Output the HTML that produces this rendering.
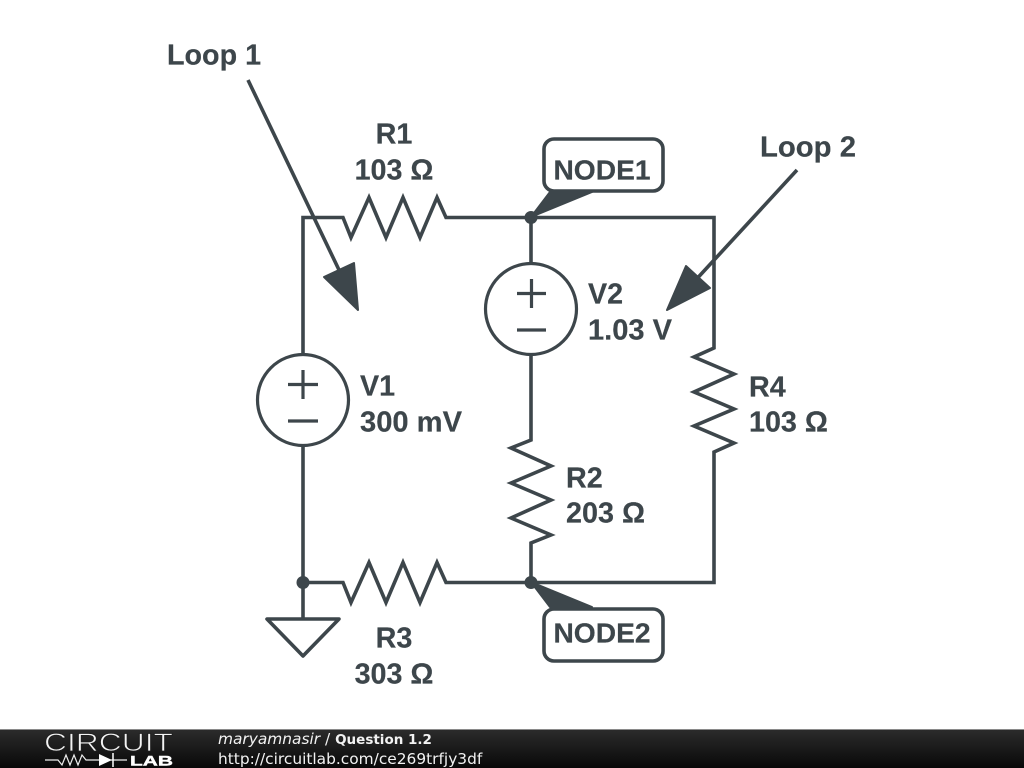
<!DOCTYPE html>
<html><head><meta charset="utf-8"><style>
html,body{margin:0;padding:0;background:#fff;width:1024px;height:768px;overflow:hidden}
svg{display:block}
.t{font-family:"Liberation Sans",sans-serif;font-weight:bold;font-size:28.7px;fill:#3d464b;stroke:#3d464b;stroke-width:.2}
.n{font-size:28.2px}
.f{font-family:"DejaVu Sans",sans-serif;font-size:15.4px;fill:#f2f2f2}
</style></head><body>
<svg width="1024" height="768" viewBox="0 0 1024 768" xmlns="http://www.w3.org/2000/svg">
<defs><linearGradient id="g" x1="0" y1="0" x2="0" y2="1"><stop offset="0" stop-color="#2c2c2c"/><stop offset="1" stop-color="#080808"/></linearGradient></defs>
<rect width="1024" height="768" fill="#fff"/>
<g fill="none" stroke="#3d464b" stroke-width="3.6" stroke-linejoin="miter" stroke-miterlimit="10" stroke-linecap="butt">
<path d="M303 355V217.5H343L351 237.5L369 197.5L386 237.5L403 197.5L420 237.5L437 197.5L446 217.5H714V348L694 357L734 374L694 392L734 409L694 426L734 443L714 452V582.5H446L437 562.5L420 602.5L403 562.5L386 602.5L369 562.5L351 602.5L343 582.5H303"/>
<path d="M303 446V619"/>
<path d="M531 217V263"/>
<path d="M531 355V440L511 448L551 466L511 483L551 500L511 518L551 535L531 543V582"/>
<path d="M248 80L340 272"/>
<path d="M797 170L692 284"/>
<path d="M267 619H339L303 656Z" stroke-linejoin="round"/>
<rect x="544" y="139" width="119" height="52" rx="10" fill="#fff"/>
<rect x="544" y="609" width="119" height="52" rx="10" fill="#fff"/>
</g>
<g fill="none" stroke="#3d464b" stroke-width="3.2">
<circle cx="303" cy="400" r="45.5"/>
<circle cx="531" cy="309" r="45.5"/>
<path d="M288 384.5H318M303 370V399M288 421H318"/>
<path d="M517 293.5H546M531.5 279V308M517 330H546"/>
</g>
<g fill="#3d464b" stroke="#3d464b" stroke-width="2" stroke-linejoin="round">
<path d="M324 277L354 263L358 310Z"/>
<path d="M686 266L710 288L667 310Z"/>
<path d="M531 217L550 192H592Z"/>
<path d="M531 582L592 607H550Z"/>
</g>
<g fill="#3d464b"><circle cx="531" cy="217.5" r="6.5"/><circle cx="531" cy="582.5" r="6.5"/><circle cx="303" cy="582.5" r="6.5"/></g>
<text class="t" x="167" y="64.5">Loop 1</text>
<text class="t" x="760" y="156.5" textLength="96" lengthAdjust="spacingAndGlyphs">Loop 2</text>
<text class="t" x="394" y="143.5" text-anchor="middle">R1</text>
<text class="t" x="394" y="179.5" text-anchor="middle">103 Ω</text>
<text class="t" x="588" y="303.5">V2</text>
<text class="t" x="588" y="339.5" textLength="84" lengthAdjust="spacingAndGlyphs">1.03 V</text>
<text class="t" x="360" y="395.5">V1</text>
<text class="t" x="360" y="431.5" textLength="102" lengthAdjust="spacingAndGlyphs">300 mV</text>
<text class="t" x="749" y="396.5">R4</text>
<text class="t" x="749" y="431.5">103 Ω</text>
<text class="t" x="566" y="487.5">R2</text>
<text class="t" x="566" y="522.5" textLength="79" lengthAdjust="spacingAndGlyphs">203 Ω</text>
<text class="t" x="394" y="647.5" text-anchor="middle">R3</text>
<text class="t" x="394" y="683.5" text-anchor="middle">303 Ω</text>
<text class="t n" x="602" y="179.7" text-anchor="middle">NODE1</text>
<text class="t n" x="602" y="642.3" text-anchor="middle">NODE2</text>
<rect x="0" y="729" width="1024" height="39" fill="url(#g)"/>
<rect x="0" y="729" width="1024" height="1" fill="#8a8a8a"/>
<text x="44" y="751" font-family="Liberation Sans,sans-serif" font-size="25" fill="#f4f4f4" stroke="#1f1f1f" stroke-width=".8" textLength="129" lengthAdjust="spacingAndGlyphs">CIRCUIT</text>
<text x="130" y="765.5" font-family="Liberation Sans,sans-serif" font-weight="bold" font-size="13.5" fill="#fff" stroke="#fff" stroke-width=".4" textLength="43" lengthAdjust="spacingAndGlyphs">LAB</text>
<path d="M45 760H58L62 765L66 755L70 765L74 755L78 765L82 755L86 760H127" fill="none" stroke="#eee" stroke-width="1.2"/>
<path d="M99 754L112 760L99 766Z" fill="#fff"/>
<path d="M113 753V767" stroke="#fff" stroke-width="1.5"/>
<text class="f" x="218" y="744"><tspan font-style="italic">maryamnasir</tspan> / <tspan font-weight="bold" font-size="13.5">Question 1.2</tspan></text>
<text class="f" x="218" y="764">http://circuitlab.com/ce269trfjy3df</text>
</svg>
</body></html>
